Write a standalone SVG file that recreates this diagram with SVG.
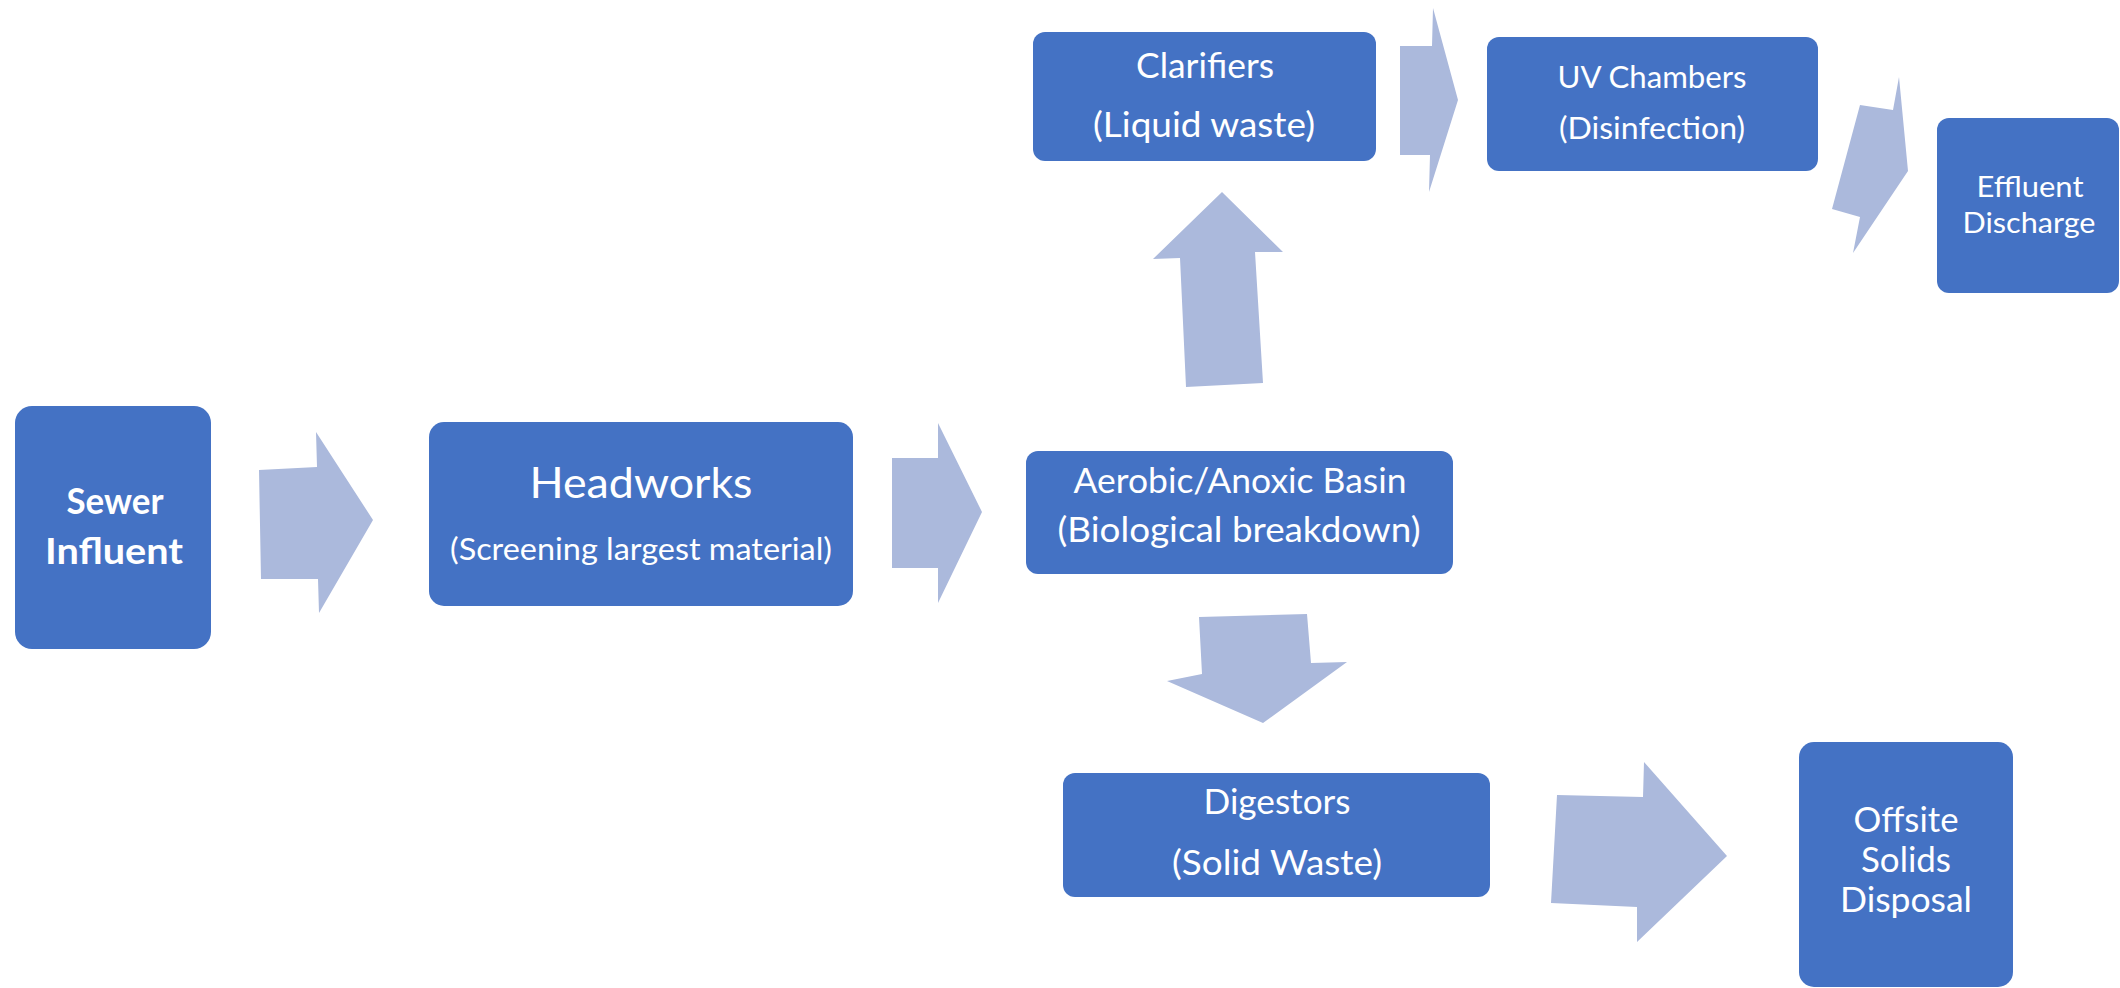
<svg xmlns="http://www.w3.org/2000/svg" width="2120" height="988" viewBox="0 0 2120 988">
<style>
.box{fill:#4472C4}
.arrow{fill:#ABB9DC}
.t{font-family:Lato,"Liberation Sans",sans-serif;fill:#FFFFFF;text-anchor:middle}
.b{font-weight:bold}
</style>
<rect width="2120" height="988" fill="#FFFFFF"/>
<g id="connectors">
<polygon class="arrow" points="259,470 317,467 316,432 373,520 319,613 318,579 261,579"/>
<polygon class="arrow" points="892,458 938,458 938,423 982,512 938,603 938,568 892,568"/>
<polygon class="arrow" points="1186,387 1180,258 1153,259 1222,192 1283,252 1255,252 1263,383"/>
<polygon class="arrow" points="1400,46 1432,46 1433,8 1458,100 1429,192 1430,155 1400,155"/>
<polygon class="arrow" points="1860,105 1893,110 1899,77 1908,171 1853,253 1860,217 1832,209"/>
<polygon class="arrow" points="1199,617 1307,614 1311,663 1347,662 1263,723 1167,681 1202,674"/>
<polygon class="arrow" points="1557,795 1643,797 1644,762 1727,856 1637,942 1637,907 1551,903"/>
</g>
<g id="sewer-influent">
<rect class="box" x="15" y="406" width="196" height="243" rx="17"/>
<text class="t b" x="115" y="514" font-size="37" textLength="97" lengthAdjust="spacingAndGlyphs">Sewer</text>
<text class="t b" x="114" y="564" font-size="37" textLength="138" lengthAdjust="spacingAndGlyphs">Influent</text>
</g>
<g id="headworks">
<rect class="box" x="429" y="422" width="424" height="184" rx="15"/>
<text class="t" x="641" y="498" font-size="43" textLength="223" lengthAdjust="spacingAndGlyphs">Headworks</text>
<text class="t" x="641" y="560" font-size="30.5" textLength="382" lengthAdjust="spacingAndGlyphs">(Screening largest material)</text>
</g>
<g id="aerobic-basin">
<rect class="box" x="1026" y="451" width="427" height="123" rx="12"/>
<text class="t" x="1240" y="493" font-size="34.5" textLength="333" lengthAdjust="spacingAndGlyphs">Aerobic/Anoxic Basin</text>
<text class="t" x="1239" y="542" font-size="34.5" textLength="363" lengthAdjust="spacingAndGlyphs">(Biological breakdown)</text>
</g>
<g id="clarifiers">
<rect class="box" x="1033" y="32" width="343" height="129" rx="12"/>
<text class="t" x="1205" y="78" font-size="34.5" textLength="138" lengthAdjust="spacingAndGlyphs">Clarifiers</text>
<text class="t" x="1204" y="137" font-size="34.5" textLength="222" lengthAdjust="spacingAndGlyphs">(Liquid waste)</text>
</g>
<g id="uv-chambers">
<rect class="box" x="1487" y="37" width="331" height="134" rx="12"/>
<text class="t" x="1652" y="88" font-size="30.5" textLength="189" lengthAdjust="spacingAndGlyphs">UV Chambers</text>
<text class="t" x="1652" y="139" font-size="30.5" textLength="186" lengthAdjust="spacingAndGlyphs">(Disinfection)</text>
</g>
<g id="effluent-discharge">
<rect class="box" x="1937" y="118" width="182" height="175" rx="12"/>
<text class="t" x="2030" y="197" font-size="29.5" textLength="107" lengthAdjust="spacingAndGlyphs">Effluent</text>
<text class="t" x="2029" y="233" font-size="29.5" textLength="133" lengthAdjust="spacingAndGlyphs">Discharge</text>
</g>
<g id="digestors">
<rect class="box" x="1063" y="773" width="427" height="124" rx="12"/>
<text class="t" x="1277" y="814" font-size="34.5" textLength="147" lengthAdjust="spacingAndGlyphs">Digestors</text>
<text class="t" x="1277" y="875" font-size="34.5" textLength="210" lengthAdjust="spacingAndGlyphs">(Solid Waste)</text>
</g>
<g id="offsite-solids-disposal">
<rect class="box" x="1799" y="742" width="214" height="245" rx="15"/>
<text class="t" x="1906" y="832" font-size="35" textLength="105" lengthAdjust="spacingAndGlyphs">Offsite</text>
<text class="t" x="1906" y="872" font-size="35" textLength="90" lengthAdjust="spacingAndGlyphs">Solids</text>
<text class="t" x="1906" y="912" font-size="35" textLength="132" lengthAdjust="spacingAndGlyphs">Disposal</text>
</g>
</svg>
